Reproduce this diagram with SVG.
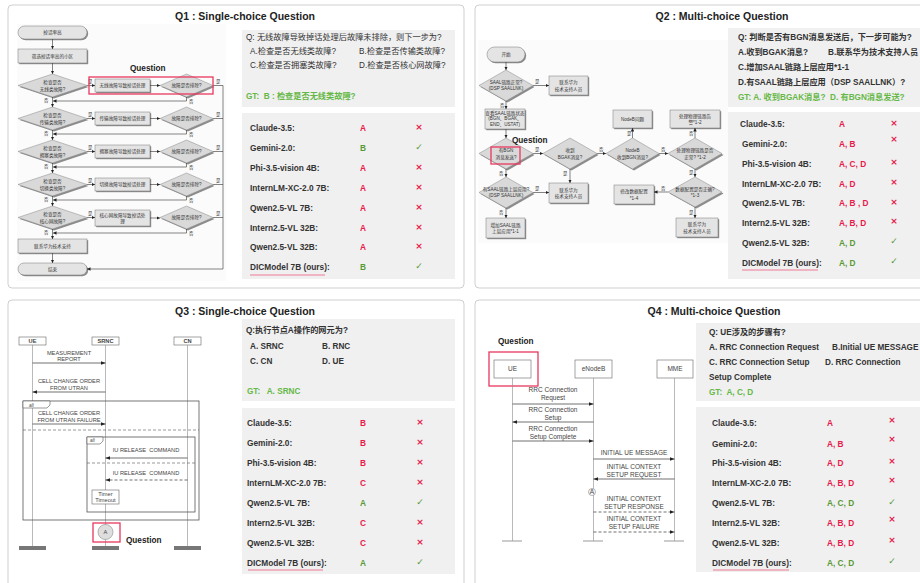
<svg xmlns="http://www.w3.org/2000/svg" width="920" height="583" viewBox="0 0 920 583">
<style>
text{font-family:"Liberation Sans","Noto Sans CJK SC",Arial,sans-serif}
.panel{fill:#fff;stroke:#cfcfcf;stroke-width:1}
.title{font-size:10.5px;font-weight:bold;fill:#222;text-anchor:middle}
.qbox{fill:#f0f0f0}
.qt{font-size:8.2px;fill:#333}
.qtb{font-size:8.2px;fill:#333;font-weight:bold}
.gt{font-size:8.2px;fill:#66b847;font-weight:bold}
.mn{font-size:8.3px;fill:#333;font-weight:bold}
.ar{font-size:8.3px;fill:#e8194b;font-weight:bold}
.ag{font-size:8.3px;fill:#5a9a36;font-weight:bold}
.xr{font-size:9px;fill:#e8194b;font-weight:bold;text-anchor:middle;font-family:"DejaVu Sans",sans-serif}
.ck{font-size:9px;fill:#5a9a36;text-anchor:middle;font-family:"DejaVu Sans",sans-serif}
.ul{stroke:#f07a95;stroke-width:1.2}
.hl{fill:none;stroke:#e8365d;stroke-width:1.3}
.qlab{font-size:8.2px;font-weight:bold;fill:#222}
.fc{font-size:4.6px;fill:#333;text-anchor:middle}
.fl{font-size:4.4px;fill:#333}
.fbox{fill:#e4e4e4;stroke:#777;stroke-width:0.5}
.fsh{fill:#8c8c8c}
.fdia{fill:#d9d9d9;stroke:#888;stroke-width:0.5}
.fln{fill:none;stroke:#333;stroke-width:0.6}
.lf{stroke:#8a8a8a;stroke-width:0.6}
.msg{fill:none;stroke:#333;stroke-width:0.7}
.dash{stroke-dasharray:3,2}
.st{font-size:5.7px;fill:#444;text-anchor:middle}
.s4{font-size:6.5px;fill:#444;text-anchor:middle}
.hd{fill:#fff;stroke:#666;stroke-width:0.6}
</style>
<defs>
<marker id="fa" viewBox="0 0 6 6" refX="6" refY="3" markerWidth="3.5" markerHeight="3.5" markerUnits="userSpaceOnUse" orient="auto"><path d="M0,0 L6,3 L0,6 Z" fill="#222"/></marker>
<marker id="sa" viewBox="0 0 8 6" refX="8" refY="3" markerWidth="5" markerHeight="3.6" markerUnits="userSpaceOnUse" orient="auto"><path d="M0,0 L8,3 L0,6 Z" fill="#222"/></marker>
</defs>
<rect width="920" height="583" fill="#fff"/>

<g id="panels">
<rect class="panel" x="8" y="5" width="456" height="283" rx="4"/>
<rect class="panel" x="475" y="5" width="460" height="283" rx="4"/>
<rect class="panel" x="8" y="300" width="456" height="295" rx="4"/>
<rect class="panel" x="475" y="300" width="460" height="295" rx="4"/>
<text class="title" x="245" y="19.5">Q1 : Single-choice Question</text>
<text class="title" x="722" y="19.5">Q2 : Multi-choice Question</text>
<text class="title" x="245" y="314.5">Q3 : Single-choice Question</text>
<text class="title" x="714" y="314.5">Q4 : Multi-choice Question</text>
</g>

<!-- ============ Q1 flowchart ============ -->
<g id="q1-flow">
<rect x="17" y="24" width="209" height="257" fill="#fbfbfb"/>
<g id="q1-start">
<rect class="fsh" x="19.2" y="27.2" width="69" height="13" rx="6.5"/>
<rect class="fbox" x="18" y="26" width="69" height="13" rx="6.5"/>
<text class="fc" x="52.5" y="34.3">掉话率高</text>
</g>
<g id="q1-filter">
<rect class="fsh" x="19.2" y="50.2" width="69" height="14"/>
<rect class="fbox" x="18" y="49" width="69" height="14"/>
<text class="fc" x="52.5" y="57.8">筛选掉话率高的小区</text>
</g>
<g id="q1-r1">
<polygon class="fsh" points="19.5,87 54,75 88.5,87 54,98.5"/>
<polygon class="fdia" points="18,85.5 52.5,74 87,85.5 52.5,97"/>
<text class="fc" x="52.5" y="84">检查是否</text><text class="fc" x="52.5" y="90.5">无线类故障?</text>
<rect class="fsh" x="96.2" y="80.2" width="55" height="13"/>
<rect class="fbox" x="95" y="79" width="55" height="13"/>
<text class="fc" x="122.5" y="87.2">无线故障导致掉话处理</text>
<polygon class="fsh" points="161.5,87 188,75 214.5,87 188,98.5"/>
<polygon class="fdia" points="160,85.5 186.5,74 213,85.5 186.5,97"/>
<text class="fc" x="186.5" y="87.3">故障是否排除?</text>
</g>
<g id="q1-r2">
<polygon class="fsh" points="19.5,120 54,108 88.5,120 54,131.5"/>
<polygon class="fdia" points="18,118.5 52.5,107 87,118.5 52.5,130"/>
<text class="fc" x="52.5" y="117">检查是否</text><text class="fc" x="52.5" y="123.5">传输类故障?</text>
<rect class="fsh" x="96.2" y="113.2" width="55" height="13"/>
<rect class="fbox" x="95" y="112" width="55" height="13"/>
<text class="fc" x="122.5" y="120.2">传输故障导致掉话处理</text>
<polygon class="fsh" points="161.5,120 188,108 214.5,120 188,131.5"/>
<polygon class="fdia" points="160,118.5 186.5,107 213,118.5 186.5,130"/>
<text class="fc" x="186.5" y="120.3">故障是否排除?</text>
</g>
<g id="q1-r3">
<polygon class="fsh" points="19.5,153 54,141 88.5,153 54,164.5"/>
<polygon class="fdia" points="18,151.5 52.5,140 87,151.5 52.5,163"/>
<text class="fc" x="52.5" y="150">检查是否</text><text class="fc" x="52.5" y="156.5">拥塞类故障?</text>
<rect class="fsh" x="96.2" y="146.2" width="55" height="13"/>
<rect class="fbox" x="95" y="145" width="55" height="13"/>
<text class="fc" x="122.5" y="153.2">拥塞故障导致掉话处理</text>
<polygon class="fsh" points="161.5,153 188,141 214.5,153 188,164.5"/>
<polygon class="fdia" points="160,151.5 186.5,140 213,151.5 186.5,163"/>
<text class="fc" x="186.5" y="153.3">故障是否排除?</text>
</g>
<g id="q1-r4">
<polygon class="fsh" points="19.5,186 54,174 88.5,186 54,197.5"/>
<polygon class="fdia" points="18,184.5 52.5,173 87,184.5 52.5,196"/>
<text class="fc" x="52.5" y="183">检查是否</text><text class="fc" x="52.5" y="189.5">切换类故障?</text>
<rect class="fsh" x="96.2" y="179.2" width="55" height="13"/>
<rect class="fbox" x="95" y="178" width="55" height="13"/>
<text class="fc" x="122.5" y="186.2">切换故障导致掉话处理</text>
<polygon class="fsh" points="161.5,186 188,174 214.5,186 188,197.5"/>
<polygon class="fdia" points="160,184.5 186.5,173 213,184.5 186.5,196"/>
<text class="fc" x="186.5" y="186.3">故障是否排除?</text>
</g>
<g id="q1-r5">
<polygon class="fsh" points="19.5,219 54,207 88.5,219 54,230.5"/>
<polygon class="fdia" points="18,217.5 52.5,206 87,217.5 52.5,229"/>
<text class="fc" x="52.5" y="216">检查是否</text><text class="fc" x="52.5" y="222.5">核心网故障?</text>
<rect class="fsh" x="96.2" y="211.2" width="55" height="16"/>
<rect class="fbox" x="95" y="210" width="55" height="16"/>
<text class="fc" x="122.5" y="216.5">核心网故障导致掉话处</text><text class="fc" x="122.5" y="223">理</text>
<polygon class="fsh" points="161.5,219 188,207 214.5,219 188,230.5"/>
<polygon class="fdia" points="160,217.5 186.5,206 213,217.5 186.5,229"/>
<text class="fc" x="186.5" y="219.3">故障是否排除?</text>
</g>
<g id="q1-support">
<rect class="fsh" x="19.2" y="240.2" width="69" height="14"/>
<rect class="fbox" x="18" y="239" width="69" height="14"/>
<text class="fc" x="52.5" y="247.8">联系华为技术支持</text>
</g>
<g id="q1-end">
<rect class="fsh" x="19.2" y="264.2" width="69" height="12" rx="6"/>
<rect class="fbox" x="18" y="263" width="69" height="12" rx="6"/>
<text class="fc" x="52.5" y="270.8">结束</text>
</g>
<g id="q1-connectors">
<line class="fln" x1="52.5" y1="39" x2="52.5" y2="49" marker-end="url(#fa)"/>
<line class="fln" x1="52.5" y1="63" x2="52.5" y2="74" marker-end="url(#fa)"/>
<line class="fln" x1="87" y1="85.5" x2="95" y2="85.5" marker-end="url(#fa)"/>
<line class="fln" x1="150" y1="85.5" x2="160" y2="85.5" marker-end="url(#fa)"/>
<path class="fln" d="M186.5,97V101H53" marker-end="url(#fa)"/>
<line class="fln" x1="52.5" y1="97" x2="52.5" y2="107" marker-end="url(#fa)"/>
<line class="fln" x1="87" y1="118.5" x2="95" y2="118.5" marker-end="url(#fa)"/>
<line class="fln" x1="150" y1="118.5" x2="160" y2="118.5" marker-end="url(#fa)"/>
<path class="fln" d="M186.5,130V134H53" marker-end="url(#fa)"/>
<line class="fln" x1="52.5" y1="130" x2="52.5" y2="140" marker-end="url(#fa)"/>
<line class="fln" x1="87" y1="151.5" x2="95" y2="151.5" marker-end="url(#fa)"/>
<line class="fln" x1="150" y1="151.5" x2="160" y2="151.5" marker-end="url(#fa)"/>
<path class="fln" d="M186.5,163V167H53" marker-end="url(#fa)"/>
<line class="fln" x1="52.5" y1="163" x2="52.5" y2="173" marker-end="url(#fa)"/>
<line class="fln" x1="87" y1="184.5" x2="95" y2="184.5" marker-end="url(#fa)"/>
<line class="fln" x1="150" y1="184.5" x2="160" y2="184.5" marker-end="url(#fa)"/>
<path class="fln" d="M186.5,196V200H53" marker-end="url(#fa)"/>
<line class="fln" x1="52.5" y1="196" x2="52.5" y2="206" marker-end="url(#fa)"/>
<line class="fln" x1="87" y1="217.5" x2="95" y2="217.5" marker-end="url(#fa)"/>
<line class="fln" x1="150" y1="218" x2="160" y2="218" marker-end="url(#fa)"/>
<path class="fln" d="M186.5,229V233H53" marker-end="url(#fa)"/>
<line class="fln" x1="52.5" y1="229" x2="52.5" y2="239" marker-end="url(#fa)"/>
<line class="fln" x1="52.5" y1="253" x2="52.5" y2="263" marker-end="url(#fa)"/>
<path class="fln" d="M213,85.5H223M213,118.5H223M213,151.5H223M213,184.5H223M213,217.5H223"/>
<path class="fln" d="M223,85.5V269H87" marker-end="url(#fa)"/>
<text class="fl" x="88" y="83">是</text><text class="fl" x="88" y="116">是</text><text class="fl" x="88" y="149">是</text><text class="fl" x="88" y="182">是</text><text class="fl" x="88" y="215">是</text>
<text class="fl" x="216" y="83">是</text><text class="fl" x="216" y="116">是</text><text class="fl" x="216" y="149">是</text><text class="fl" x="216" y="182">是</text><text class="fl" x="216" y="215">是</text>
<text class="fl" x="44" y="102">否</text><text class="fl" x="44" y="135">否</text><text class="fl" x="44" y="168">否</text><text class="fl" x="44" y="201">否</text><text class="fl" x="44" y="234">否</text>
<text class="fl" x="189" y="103">否</text><text class="fl" x="189" y="136">否</text><text class="fl" x="189" y="169">否</text><text class="fl" x="189" y="202">否</text><text class="fl" x="189" y="235">否</text>
</g>
<rect class="hl" x="89" y="77" width="124" height="17"/>
<text class="qlab" x="130" y="71">Question</text>
</g>

<g id="q1-question">
<rect class="qbox" x="242" y="30" width="213" height="77"/>
<text class="qt" x="246" y="40">Q: 无线故障导致掉话处理后故障未排除，则下一步为?</text>
<text class="qt" x="250" y="54">A.检查是否无线类故障?</text>
<text class="qt" x="359" y="54">B.检查是否传输类故障?</text>
<text class="qt" x="250" y="68">C.检查是否拥塞类故障?</text>
<text class="qt" x="359" y="68">D.检查是否核心网故障?</text>
<text class="gt" x="246" y="99" xml:space="preserve">GT:  B : 检查是否无线类故障?</text>
</g>
<g id="q1-answers">
<rect class="qbox" x="242" y="113" width="213" height="166"/>
<text class="mn" x="250" y="131">Claude-3.5:</text><text class="ar" x="360" y="131">A</text><text class="xr" x="419" y="130">×</text>
<text class="mn" x="250" y="151">Gemini-2.0:</text><text class="ag" x="360" y="151">B</text><text class="ck" x="419" y="150">✓</text>
<text class="mn" x="250" y="171">Phi-3.5-vision 4B:</text><text class="ar" x="360" y="171">A</text><text class="xr" x="419" y="170">×</text>
<text class="mn" x="250" y="191">InternLM-XC-2.0 7B:</text><text class="ar" x="360" y="191">A</text><text class="xr" x="419" y="190">×</text>
<text class="mn" x="250" y="211">Qwen2.5-VL 7B:</text><text class="ar" x="360" y="211">A</text><text class="xr" x="419" y="210">×</text>
<text class="mn" x="250" y="231">Intern2.5-VL 32B:</text><text class="ar" x="360" y="231">A</text><text class="xr" x="419" y="230">×</text>
<text class="mn" x="250" y="250">Qwen2.5-VL 32B:</text><text class="ar" x="360" y="250">A</text><text class="xr" x="419" y="249">×</text>
<text class="mn" x="250" y="270">DICModel 7B (ours):</text><text class="ag" x="360" y="270">B</text><text class="ck" x="419" y="269">✓</text>
<line class="ul" x1="250" y1="275" x2="325" y2="275"/>
</g>

<!-- ============ Q2 flowchart ============ -->
<g id="q2-flow">
<rect x="478" y="40" width="250" height="203" fill="#fbfbfb"/>
<g id="q2-start">
<rect class="fsh" x="488.2" y="48.2" width="38" height="15" rx="7.5"/>
<rect class="fbox" x="487" y="47" width="38" height="15" rx="7.5"/>
<text class="fc" x="506" y="56.3">开始</text>
</g>
<g id="q2-d1">
<polygon class="fsh" points="480.5,87 507.5,71.5 534.5,87 507.5,102.5"/>
<polygon class="fdia" points="479,85.5 506,70 533,85.5 506,101"/>
<text class="fc" x="506" y="84">SAAL链路正常?</text><text class="fc" x="506" y="90">(DSP SAALLNK)</text>
</g>
<g id="q2-r1">
<rect class="fsh" x="550.2" y="77.2" width="39" height="19"/>
<rect class="fbox" x="549" y="76" width="39" height="19"/>
<text class="fc" x="568.5" y="84">联系华为</text><text class="fc" x="568.5" y="90.5">技术支持人员</text>
</g>
<g id="q2-r2">
<rect class="fsh" x="486.2" y="110.2" width="40" height="20"/>
<rect class="fbox" x="485" y="109" width="40" height="20"/>
<text class="fc" x="505" y="114.5">查看SAAL链路状态</text><text class="fc" x="505" y="120.3">(BGN、BGAK、</text><text class="fc" x="505" y="126.2">END、USTAT)</text>
</g>
<g id="q2-d2">
<polygon class="fsh" points="480.5,155 507.5,139.5 534.5,155 507.5,170.5"/>
<polygon class="fdia" points="479,153.5 506,138 533,153.5 506,169"/>
<text class="fc" x="506" y="152">有BGN</text><text class="fc" x="506" y="158.5">消息发送?</text>
</g>
<g id="q2-d3">
<polygon class="fsh" points="544.5,155 571.5,139.5 598.5,155 571.5,170.5"/>
<polygon class="fdia" points="543,153.5 570,138 597,153.5 570,169"/>
<text class="fc" x="570" y="152">收到</text><text class="fc" x="570" y="158.5">BGAK消息?</text>
</g>
<g id="q2-d4">
<polygon class="fsh" points="607.5,155 634,139.5 660.5,155 634,170.5"/>
<polygon class="fdia" points="606,153.5 632.5,138 659,153.5 632.5,169"/>
<text class="fc" x="632.5" y="152">NodeB</text><text class="fc" x="632.5" y="158.5">收到BGN消息?</text>
</g>
<g id="q2-r3">
<rect class="fsh" x="614.2" y="111.2" width="39" height="18"/>
<rect class="fbox" x="613" y="110" width="39" height="18"/>
<text class="fc" x="632.5" y="120.7">NodeB问题</text>
</g>
<g id="q2-d5">
<polygon class="fsh" points="669.5,155 696.5,139.5 723.5,155 696.5,170.5"/>
<polygon class="fdia" points="668,153.5 695,138 722,153.5 695,169"/>
<text class="fc" x="695" y="152">处理物理链路是否</text><text class="fc" x="695" y="158.5">正常? *1-2</text>
</g>
<g id="q2-r4">
<rect class="fsh" x="671.2" y="111.2" width="50" height="18"/>
<rect class="fbox" x="670" y="110" width="50" height="18"/>
<text class="fc" x="695" y="117.5">处理物理链路告</text><text class="fc" x="695" y="124">警*1-2</text>
</g>
<g id="q2-d6">
<polygon class="fsh" points="669.5,193.5 696.5,178.5 723.5,193.5 696.5,208.5"/>
<polygon class="fdia" points="668,192 695,177 722,192 695,207"/>
<text class="fc" x="695" y="190.5">数据配置是否正确?</text><text class="fc" x="695" y="197">*1-3</text>
</g>
<g id="q2-r5">
<rect class="fsh" x="615.2" y="186.2" width="40" height="19"/>
<rect class="fbox" x="614" y="185" width="40" height="19"/>
<text class="fc" x="634" y="193">修改数据配置</text><text class="fc" x="634" y="199.5">*1-4</text>
</g>
<g id="q2-r6">
<rect class="fsh" x="677.2" y="219.2" width="42" height="19"/>
<rect class="fbox" x="676" y="218" width="42" height="19"/>
<text class="fc" x="697" y="226">联系华为</text><text class="fc" x="697" y="232.5">技术支持人员</text>
</g>
<g id="q2-r7">
<rect class="fsh" x="550.2" y="184.2" width="39" height="20"/>
<rect class="fbox" x="549" y="183" width="39" height="20"/>
<text class="fc" x="568.5" y="191.5">联系华为</text><text class="fc" x="568.5" y="198">技术支持人员</text>
</g>
<g id="q2-d7">
<polygon class="fsh" points="480.5,194 507.5,178.5 534.5,194 507.5,209.5"/>
<polygon class="fdia" points="479,192.5 506,177 533,192.5 506,208"/>
<text class="fc" x="506" y="191">有SAAL链路上层应用?</text><text class="fc" x="506" y="197">(DSP SAALLNK)</text>
</g>
<g id="q2-r8">
<rect class="fsh" x="487.2" y="219.2" width="39" height="20"/>
<rect class="fbox" x="486" y="218" width="39" height="20"/>
<text class="fc" x="505.5" y="226.5">增加SAAL链路</text><text class="fc" x="505.5" y="233">上层应用*1-1</text>
</g>
<g id="q2-connectors">
<line class="fln" x1="506" y1="62" x2="506" y2="70" marker-end="url(#fa)"/>
<line class="fln" x1="533" y1="85.5" x2="549" y2="85.5" marker-end="url(#fa)"/>
<line class="fln" x1="506" y1="101" x2="506" y2="109" marker-end="url(#fa)"/>
<line class="fln" x1="506" y1="129" x2="506" y2="138" marker-end="url(#fa)"/>
<line class="fln" x1="533" y1="153.5" x2="543" y2="153.5" marker-end="url(#fa)"/>
<line class="fln" x1="597" y1="153.5" x2="606" y2="153.5" marker-end="url(#fa)"/>
<line class="fln" x1="632.5" y1="138" x2="632.5" y2="128" marker-end="url(#fa)"/>
<line class="fln" x1="659" y1="153.5" x2="668" y2="153.5" marker-end="url(#fa)"/>
<line class="fln" x1="695" y1="138" x2="695" y2="128" marker-end="url(#fa)"/>
<line class="fln" x1="695" y1="169" x2="695" y2="177" marker-end="url(#fa)"/>
<line class="fln" x1="668" y1="192" x2="654" y2="192" marker-end="url(#fa)"/>
<line class="fln" x1="695" y1="207" x2="695" y2="218" marker-end="url(#fa)"/>
<line class="fln" x1="570" y1="169" x2="570" y2="183" marker-end="url(#fa)"/>
<line class="fln" x1="506" y1="169" x2="506" y2="177" marker-end="url(#fa)"/>
<line class="fln" x1="533" y1="192.5" x2="549" y2="192.5" marker-end="url(#fa)"/>
<line class="fln" x1="506" y1="208" x2="506" y2="218" marker-end="url(#fa)"/>
<text class="fl" x="535" y="83">是</text>
<text class="fl" x="500" y="107">否</text>
<text class="fl" x="535" y="151">是</text>
<text class="fl" x="599" y="151">否</text>
<text class="fl" x="627" y="135">是</text>
<text class="fl" x="661" y="151">否</text>
<text class="fl" x="689" y="135">否</text>
<text class="fl" x="689" y="174">是</text>
<text class="fl" x="661" y="190">否</text>
<text class="fl" x="689" y="214">是</text>
<text class="fl" x="563" y="175">是</text>
<text class="fl" x="499" y="175">否</text>
<text class="fl" x="535" y="190">是</text>
<text class="fl" x="499" y="214">否</text>
</g>
<rect class="hl" x="491" y="147" width="29" height="17"/>
<text class="qlab" x="512" y="143">Question</text>
</g>

<g id="q2-question">
<rect class="qbox" x="728" y="28" width="200" height="79"/>
<text class="qtb" x="738" y="40">Q: 判断是否有BGN消息发送后，下一步可能为?</text>
<text class="qtb" x="738" y="55">A.收到BGAK消息?</text>
<text class="qtb" x="828" y="55">B.联系华为技术支持人员</text>
<text class="qtb" x="738" y="70">C.增加SAAL链路上层应用*1-1</text>
<text class="qtb" x="738" y="85">D.有SAAL链路上层应用（DSP SAALLNK）?</text>
<text class="gt" x="738" y="100" xml:space="preserve">GT: A. 收到BGAK消息?  D. 有BGN消息发送?</text>
</g>
<g id="q2-answers">
<rect class="qbox" x="728" y="112" width="200" height="167"/>
<text class="mn" x="740" y="127">Claude-3.5:</text><text class="ar" x="839" y="127">A</text><text class="xr" x="894" y="126">×</text>
<text class="mn" x="742" y="147">Gemini-2.0:</text><text class="ar" x="839" y="147">A, B</text><text class="xr" x="894" y="142">×</text>
<text class="mn" x="742" y="167">Phi-3.5-vision 4B:</text><text class="ar" x="839" y="167">A, C, D</text><text class="xr" x="894" y="165">×</text>
<text class="mn" x="742" y="186.5">InternLM-XC-2.0 7B:</text><text class="ar" x="839" y="186.5">A, D</text><text class="xr" x="894" y="185">×</text>
<text class="mn" x="742" y="206">Qwen2.5-VL 7B:</text><text class="ar" x="839" y="206">A, B , D</text><text class="xr" x="894" y="205">×</text>
<text class="mn" x="742" y="226">Intern2.5-VL 32B:</text><text class="ar" x="839" y="226">A, B, D</text><text class="xr" x="894" y="224">×</text>
<text class="mn" x="742" y="246">Qwen2.5-VL 32B:</text><text class="ag" x="839" y="246">A, D</text><text class="ck" x="894" y="244">✓</text>
<text class="mn" x="742" y="265.5">DICModel 7B (ours):</text><text class="ag" x="839" y="265.5">A, D</text><text class="ck" x="894" y="264">✓</text>
<line class="ul" x1="742" y1="270" x2="818" y2="270"/>
</g>

<!-- ============ Q3 sequence ============ -->
<g id="q3-seq">
<g id="q3-ue"><rect class="hd" x="19" y="337" width="27" height="8"/><text class="st" x="32.5" y="343" font-weight="bold" font-size="5px">UE</text></g>
<g id="q3-srnc"><rect class="hd" x="92" y="337" width="27" height="8"/><text class="st" x="105.5" y="343" font-weight="bold" font-size="5px">SRNC</text></g>
<g id="q3-cn"><rect class="hd" x="174" y="337" width="27" height="8"/><text class="st" x="187.5" y="343" font-weight="bold" font-size="5px">CN</text></g>
<g id="q3-lifelines">
<line class="lf" x1="32.5" y1="345" x2="32.5" y2="547"/>
<line class="lf" x1="105.5" y1="345" x2="105.5" y2="547"/>
<line class="lf" x1="187.5" y1="345" x2="187.5" y2="547"/>
<rect x="19" y="546" width="27" height="4" fill="#777"/>
<rect x="92" y="546" width="27" height="4" fill="#777"/>
<rect x="174" y="546" width="27" height="4" fill="#777"/>
</g>
<g id="q3-frames">
<rect x="23" y="401" width="176" height="119" fill="none" stroke="#555" stroke-width="0.8"/>
<path d="M23,401H50V405L47,408H23Z" fill="#fff" stroke="#555" stroke-width="0.6"/>
<text x="29" y="406.5" font-size="4.5px" font-style="italic" fill="#444">alt</text>
<line x1="23" y1="430" x2="199" y2="430" stroke="#555" stroke-width="0.6" stroke-dasharray="3,2"/>
<rect x="87" y="437" width="108" height="75" fill="none" stroke="#555" stroke-width="0.8"/>
<path d="M87,437H103V441L100,444H87Z" fill="#fff" stroke="#555" stroke-width="0.6"/>
<text x="90" y="442.3" font-size="4.5px" font-style="italic" fill="#444">alt</text>
<line x1="87" y1="463" x2="195" y2="463" stroke="#555" stroke-width="0.6" stroke-dasharray="3,2"/>
</g>
<g id="q3-timer"><rect class="hd" x="92" y="490" width="27" height="14"/><text class="st" x="105.5" y="496" font-size="4.6px">Timer</text><text class="st" x="105.5" y="502" font-size="4.6px">Timeout</text></g>
<g id="q3-nodeA"><circle cx="105.5" cy="532" r="7.5" fill="#dedede" stroke="#888" stroke-width="0.6"/><text class="st" x="105.5" y="534" font-size="5.5px">A</text></g>
<g id="q3-messages">
<text class="st" x="69" y="355">MEASUREMENT</text><text class="st" x="69" y="361">REPORT</text>
<line class="msg" x1="32.5" y1="363" x2="105.5" y2="363" marker-end="url(#sa)"/>
<text class="st" x="69" y="383">CELL CHANGE ORDER</text><text class="st" x="69" y="390">FROM UTRAN</text>
<line class="msg" x1="105.5" y1="392" x2="32.5" y2="392" marker-end="url(#sa)"/>
<text class="st" x="69" y="415">CELL CHANGE ORDER</text><text class="st" x="69" y="422">FROM UTRAN FAILURE</text>
<line class="msg" x1="32.5" y1="424" x2="105.5" y2="424" marker-end="url(#sa)"/>
<text class="st" x="146" y="452" xml:space="preserve">IU RELEASE  COMMAND</text>
<line class="msg" x1="187.5" y1="458" x2="105.5" y2="458" marker-end="url(#sa)"/>
<text class="st" x="146" y="475" xml:space="preserve">IU RELEASE  COMMAND</text>
<line class="msg dash" x1="187.5" y1="480" x2="105.5" y2="480" marker-end="url(#sa)"/>
</g>
<rect class="hl" x="93" y="523" width="27" height="19"/>
<text class="qlab" x="126" y="543">Question</text>
</g>

<g id="q3-question">
<rect class="qbox" x="242" y="319" width="213" height="82"/>
<text class="qtb" x="246" y="333">Q:执行节点A操作的网元为?</text>
<text class="qtb" x="250" y="349">A. SRNC</text><text class="qtb" x="322" y="349">B. RNC</text>
<text class="qtb" x="250" y="364">C. CN</text><text class="qtb" x="322" y="364">D. UE</text>
<text class="gt" x="247" y="394" xml:space="preserve">GT:   A. SRNC</text>
</g>
<g id="q3-answers">
<rect class="qbox" x="242" y="408" width="213" height="166"/>
<text class="mn" x="247" y="426">Claude-3.5:</text><text class="ar" x="360" y="426">B</text><text class="xr" x="420" y="425">×</text>
<text class="mn" x="247" y="446">Gemini-2.0:</text><text class="ar" x="360" y="446">B</text><text class="xr" x="420" y="445">×</text>
<text class="mn" x="247" y="466">Phi-3.5-vision 4B:</text><text class="ar" x="360" y="466">B</text><text class="xr" x="420" y="465">×</text>
<text class="mn" x="247" y="486">InternLM-XC-2.0 7B:</text><text class="ar" x="360" y="486">C</text><text class="xr" x="420" y="485">×</text>
<text class="mn" x="247" y="506">Qwen2.5-VL 7B:</text><text class="ag" x="360" y="506">A</text><text class="ck" x="420" y="505">✓</text>
<text class="mn" x="247" y="526">Intern2.5-VL 32B:</text><text class="ar" x="360" y="526">C</text><text class="xr" x="420" y="525">×</text>
<text class="mn" x="247" y="546">Qwen2.5-VL 32B:</text><text class="ar" x="360" y="546">C</text><text class="xr" x="420" y="545">×</text>
<text class="mn" x="247" y="566">DICModel 7B (ours):</text><text class="ag" x="360" y="566">A</text><text class="ck" x="420" y="565">✓</text>
<line class="ul" x1="248" y1="570" x2="323" y2="570"/>
</g>

<!-- ============ Q4 sequence ============ -->
<g id="q4-seq">
<text class="qlab" x="498" y="344">Question</text>
<g id="q4-ue"><rect class="hd" x="494" y="360" width="37" height="18"/><text class="s4" x="512.5" y="371.3">UE</text></g>
<g id="q4-enb"><rect class="hd" x="575" y="360" width="37" height="18"/><text class="s4" x="593.5" y="371.3">eNodeB</text></g>
<g id="q4-mme"><rect class="hd" x="657" y="360" width="36" height="18"/><text class="s4" x="675" y="371.3">MME</text></g>
<rect class="hl" x="489" y="352" width="49" height="34"/>
<g id="q4-lifelines">
<line class="lf" x1="512.5" y1="378" x2="512.5" y2="541"/>
<line class="lf" x1="593.5" y1="378" x2="593.5" y2="541"/>
<line class="lf" x1="674.5" y1="378" x2="674.5" y2="541"/>
<line x1="502" y1="541" x2="522" y2="541" stroke="#999" stroke-width="1"/>
<line x1="583" y1="541" x2="603" y2="541" stroke="#999" stroke-width="1"/>
<line x1="664" y1="541" x2="684" y2="541" stroke="#999" stroke-width="1"/>
</g>
<g id="q4-messages">
<text class="s4" x="553" y="392.3">RRC Connection</text><text class="s4" x="553" y="400.3">Request</text>
<line class="msg" x1="512.5" y1="404" x2="593.5" y2="404" marker-end="url(#sa)"/>
<text class="s4" x="553" y="412.3">RRC Connection</text><text class="s4" x="553" y="420.3">Setup</text>
<line class="msg" x1="593.5" y1="422" x2="512.5" y2="422" marker-end="url(#sa)"/>
<text class="s4" x="553" y="431">RRC Connection</text><text class="s4" x="553" y="439">Setup Complete</text>
<line class="msg" x1="512.5" y1="441" x2="593.5" y2="441" marker-end="url(#sa)"/>
<text class="s4" x="634" y="455.3">INITIAL UE MESSAGE</text>
<line class="msg" x1="593.5" y1="459" x2="674.5" y2="459" marker-end="url(#sa)"/>
<text class="s4" x="634" y="469.3">INITIAL CONTEXT</text><text class="s4" x="634" y="477.3">SETUP REQUEST</text>
<line class="msg" x1="674.5" y1="479" x2="593.5" y2="479" marker-end="url(#sa)"/>
<circle cx="592" cy="492" r="3.5" fill="#fff" stroke="#666" stroke-width="0.5"/><text class="s4" x="592" y="494" font-size="4.5px">A</text>
<text class="s4" x="634" y="501.3">INITIAL CONTEXT</text><text class="s4" x="634" y="509.3">SETUP RESPONSE</text>
<line class="msg dash" x1="593.5" y1="512" x2="674.5" y2="512" marker-end="url(#sa)"/>
<text class="s4" x="634" y="521.3">INITIAL CONTEXT</text><text class="s4" x="634" y="529.3">SETUP FAILURE</text>
<line class="msg dash" x1="593.5" y1="532" x2="674.5" y2="532" marker-end="url(#sa)"/>
</g>
</g>

<g id="q4-question">
<rect class="qbox" x="696" y="323" width="230" height="78"/>
<text class="qtb" x="709" y="335">Q: UE涉及的步骤有?</text>
<text class="qtb" x="709" y="350">A. RRC Connection Request</text><text class="qtb" x="832" y="350">B.Initial UE MESSAGE</text>
<text class="qtb" x="709" y="365">C. RRC Connection Setup</text><text class="qtb" x="825" y="365">D. RRC Connection</text>
<text class="qtb" x="709" y="380">Setup Complete</text>
<text class="gt" x="709" y="394.5" xml:space="preserve">GT:  A, C, D</text>
</g>
<g id="q4-answers">
<rect class="qbox" x="696" y="407" width="230" height="165"/>
<text class="mn" x="712" y="426">Claude-3.5:</text><text class="ar" x="827" y="426">A</text><text class="xr" x="892" y="423">×</text>
<text class="mn" x="712" y="446.5">Gemini-2.0:</text><text class="ar" x="827" y="446.5">A, B</text><text class="xr" x="892" y="442">×</text>
<text class="mn" x="712" y="466">Phi-3.5-vision 4B:</text><text class="ar" x="827" y="466">A, D</text><text class="xr" x="892" y="464">×</text>
<text class="mn" x="712" y="486">InternLM-XC-2.0 7B:</text><text class="ar" x="827" y="486">A, B, D</text><text class="xr" x="892" y="483">×</text>
<text class="mn" x="712" y="506">Qwen2.5-VL 7B:</text><text class="ag" x="827" y="506">A, C, D</text><text class="ck" x="892" y="505">✓</text>
<text class="mn" x="712" y="526">Intern2.5-VL 32B:</text><text class="ar" x="827" y="526">A, B, D</text><text class="xr" x="892" y="522">×</text>
<text class="mn" x="712" y="546">Qwen2.5-VL 32B:</text><text class="ar" x="827" y="546">A, B, D</text><text class="xr" x="892" y="543">×</text>
<text class="mn" x="712" y="566">DICModel 7B (ours):</text><text class="ag" x="827" y="566">A, C, D</text><text class="ck" x="892" y="564">✓</text>
<line class="ul" x1="713" y1="570" x2="789" y2="570"/>
</g>
</svg>
